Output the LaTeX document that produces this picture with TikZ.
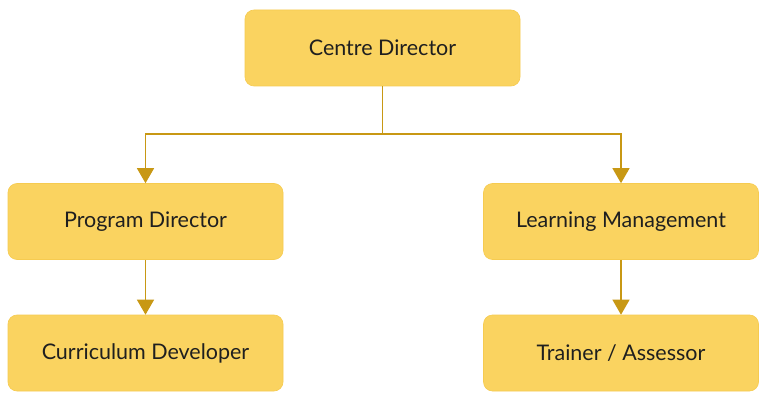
\documentclass[tikz,border=0pt]{standalone}
\usepackage{fontspec}
\setmainfont{Lato}
\usetikzlibrary{arrows.meta}
\definecolor{boxfill}{RGB}{250,211,96}
\definecolor{boxedge}{RGB}{246,203,80}
\definecolor{linegold}{RGB}{200,152,20}
\tikzset{
  orgbox/.style={draw=boxedge, line width=0.6pt, fill=boxfill, rounded corners=9pt,
    minimum width=275pt, minimum height=76pt, inner sep=0pt, font=\fontsize{21.5}{24}\selectfont, text=black!88},
  link/.style={draw=linegold, line width=1.2pt},
  arr/.style={link, -{Triangle[width=17pt,length=15pt]}}
}
\begin{document}
\begin{tikzpicture}[x=1pt,y=-1pt]
\useasboundingbox (0,0) rectangle (768,409);
\fill[white] (0,0) rectangle (768,409);
\node[orgbox] (cd) at (382.5,48) {Centre Director};
\node[orgbox] (pd) at (145.5,221.5) {Program Director};
\node[orgbox] (lm) at (621,221.5) {Learning Management};
\node[orgbox] (cu) at (145.5,353) {Curriculum Developer};
\node[orgbox] (ta) at (621,353) {Trainer / Assessor};
\coordinate (split) at (382.5,134);
\draw[link] (cd.south) -- (split);
\draw[arr] (split) -| (pd.north);
\draw[arr] (split) -| (lm.north);
\draw[arr] (pd.south) -- (cu.north);
\draw[arr] (lm.south) -- (ta.north);
\end{tikzpicture}
\end{document}
